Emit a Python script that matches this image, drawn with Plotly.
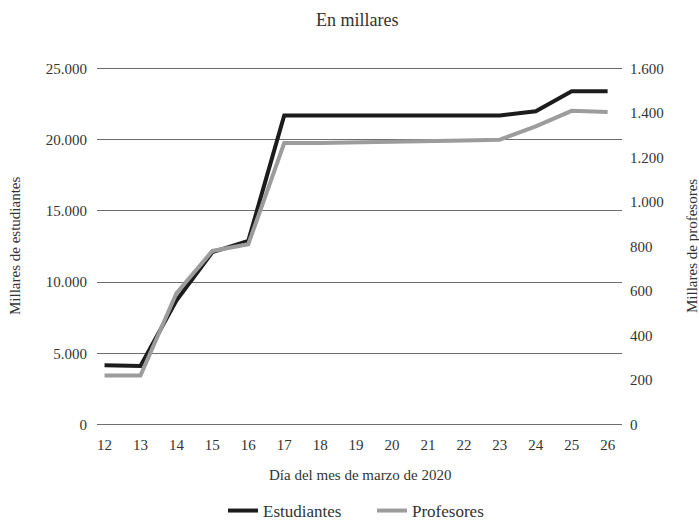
import plotly.graph_objects as go

dias = [12, 13, 14, 15, 16, 17, 18, 19, 20, 21, 22, 23, 24, 25, 26]
estudiantes = [4150, 4100, 8700, 12100, 12900, 21700, 21700, 21700, 21700, 21700, 21700, 21700, 22000, 23400, 23400]
profesores = [220, 220, 590, 780, 810, 1265, 1265, 1267, 1270, 1273, 1277, 1280, 1340, 1410, 1405]

left_ticks = [0, 5000, 10000, 15000, 20000, 25000]
right_ticks = [0, 200, 400, 600, 800, 1000, 1200, 1400, 1600]

FONT = "Liberation Serif"
TXT = "#333333"

W, H = 699, 520
l, r, t, b = 97, 77, 65, 92
pw, ph = W - l - r, H - t - b

def px(xp):
    return (xp - l) / pw

def py(yp):
    return (H - b - yp) / ph

fig = go.Figure()
fig.add_trace(go.Scatter(x=dias, y=estudiantes, name="Estudiantes", mode="lines",
                         line=dict(color="#1c1c1c", width=4), yaxis="y"))
fig.add_trace(go.Scatter(x=dias, y=profesores, name="Profesores", mode="lines",
                         line=dict(color="#9c9c9c", width=4), yaxis="y2"))

fig.update_layout(
    width=W, height=H,
    margin=dict(l=l, r=r, t=t, b=b, autoexpand=False),
    paper_bgcolor="white", plot_bgcolor="white",
    separators=",.",
    font=dict(family=FONT, size=14, color=TXT),
    showlegend=True,
    legend=dict(orientation="h", x=px(372), xanchor="center", xref="paper",
                y=py(511), yanchor="middle", yref="paper",
                font=dict(family=FONT, size=17, color=TXT),
                entrywidth=104, entrywidthmode="pixels",
                traceorder="normal"),
    xaxis=dict(range=[11.79, 26.40], tickvals=dias, ticktext=[str(d) for d in dias],
               showgrid=False, zeroline=False, showline=False, automargin=False,
               ticks="outside", ticklen=3, tickcolor="rgba(0,0,0,0)",
               tickfont=dict(family=FONT, size=15, color=TXT)),
    yaxis=dict(range=[-250, 25250], tickvals=left_ticks, tickformat=",d",
               showgrid=True, gridcolor="#6e6e6e", gridwidth=1, zeroline=False, showline=False,
               automargin=False,
               ticks="outside", ticklen=6, tickcolor="rgba(0,0,0,0)",
               tickfont=dict(family=FONT, size=15, color=TXT)),
    yaxis2=dict(range=[-16, 1616], tickvals=right_ticks, tickformat=",d",
                overlaying="y", side="right", showgrid=False, zeroline=False, showline=False,
                automargin=False,
                ticks="outside", ticklen=4, tickcolor="rgba(0,0,0,0)",
                tickfont=dict(family=FONT, size=15, color=TXT)),
    annotations=[
        dict(text="En millares", x=px(357), y=py(20), xref="paper", yref="paper",
             xanchor="center", yanchor="middle", showarrow=False,
             font=dict(family=FONT, size=18, color=TXT)),
        dict(text="Millares de estudiantes", x=px(15), y=py(246), xref="paper", yref="paper",
             xanchor="center", yanchor="middle", textangle=-90, showarrow=False,
             font=dict(family=FONT, size=15, color=TXT)),
        dict(text="Millares de profesores", x=px(692), y=py(246), xref="paper", yref="paper",
             xanchor="center", yanchor="middle", textangle=-90, showarrow=False,
             font=dict(family=FONT, size=15, color=TXT)),
        dict(text="Día del mes de marzo de 2020", x=px(360), y=py(475), xref="paper", yref="paper",
             xanchor="center", yanchor="middle", showarrow=False,
             font=dict(family=FONT, size=15, color=TXT)),
    ],
)

fig.write_html("out.html", config={"displayModeBar": False},
               post_script="document.body.style.margin='0';document.body.style.padding='0';document.body.style.overflow='hidden';")
